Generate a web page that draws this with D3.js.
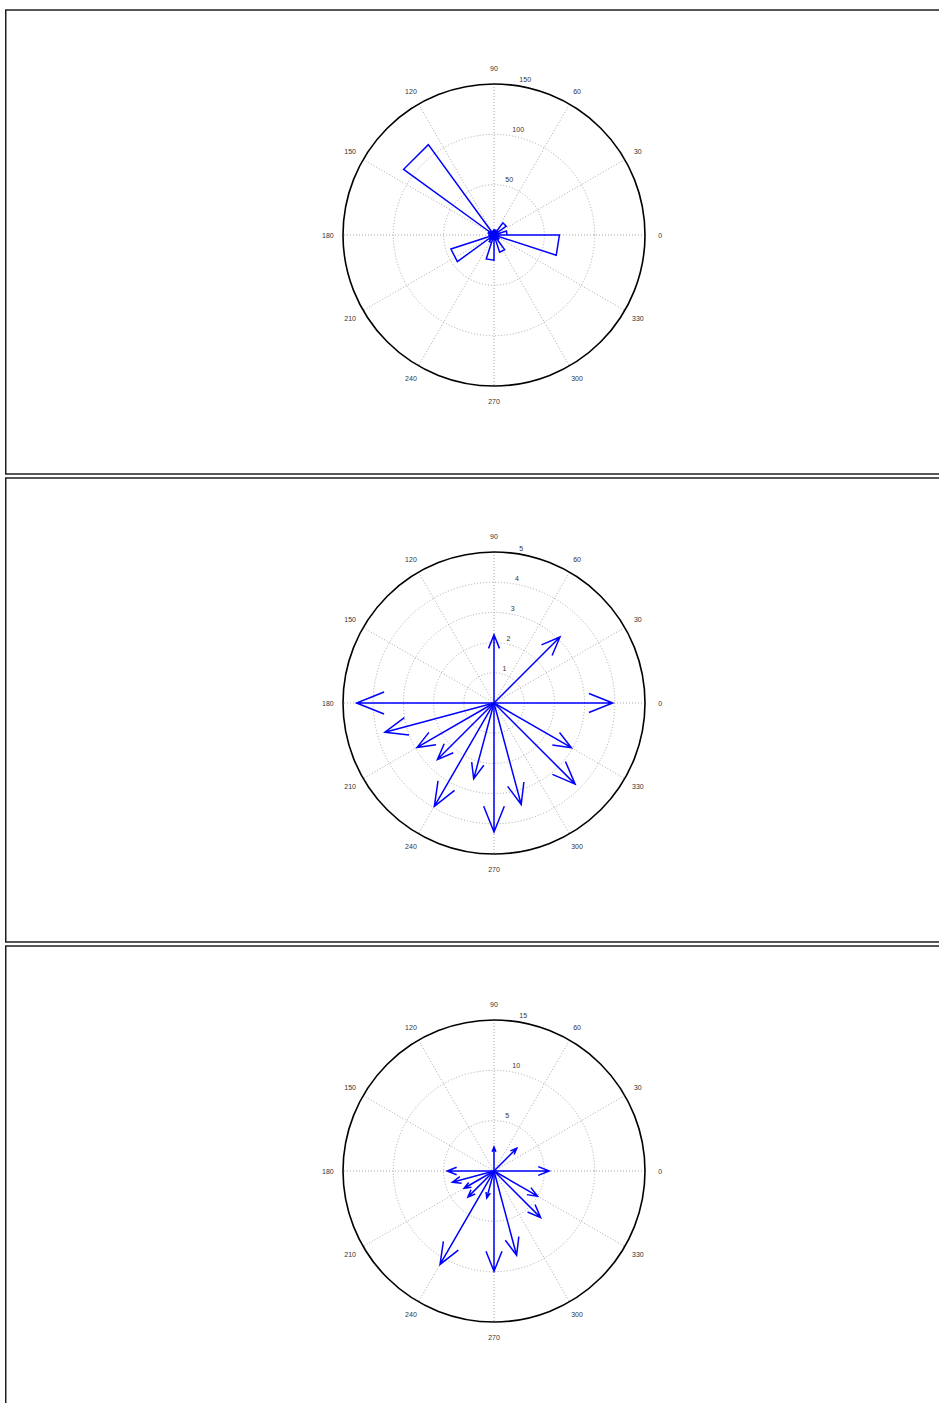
<!DOCTYPE html>
<html>
<head>
<meta charset="utf-8">
<script src="https://cdn.jsdelivr.net/npm/d3@7"></script>
<style>
  html, body { margin: 0; padding: 0; background: #fff; }
  svg { display: block; }
  text { font-family: "Liberation Sans", Arial, Helvetica, sans-serif; }
</style>
</head>
<body>
<svg id="chart" width="939" height="1403"></svg>
<script>
// Rose histogram: 20 bins of 18 degrees, counts per bin (starting at 0 deg)
const roseBinStarts = [0, 18, 36, 54, 72, 90, 108, 126, 144, 162, 180, 198, 216, 234, 252, 270, 288, 306, 324, 342];
const roseCounts    = [13, 4, 15, 3, 5, 3, 4, 111, 6, 3, 5, 45, 6, 8, 25, 5, 18, 6, 4, 65];
const roseRingTicks = [50, 100, 150];

// Compass vectors (direction in degrees, magnitude)
const compassAngles  = [90, 45, 0, 180, 195, 210, 225, 255, 240, 270, 285, 315, 330];
const compassMagsA   = [2.26, 3.09, 3.93, 4.55, 3.74, 2.94, 2.65, 2.60, 3.95, 4.27, 3.48, 3.80, 2.96];
const compassRingsA  = [1, 2, 3, 4, 5];
const compassMagsB   = [2.38, 3.21, 5.49, 4.64, 4.28, 3.43, 3.67, 2.77, 10.72, 9.96, 8.67, 6.55, 5.0];
const compassRingsB  = [5, 10, 15];

const angleLabels = [0, 30, 60, 90, 120, 150, 180, 210, 240, 270, 300, 330];

const svg = d3.select("#chart");
const panelTop = [10, 478, 946];
const panelH = 464;
const cx = 494, cyOff = 225, R = 151;
const deg = Math.PI / 180;

// Panel frames
panelTop.forEach(t => {
  svg.append("rect")
    .attr("x", 5.75).attr("y", t)
    .attr("width", 1000).attr("height", panelH)
    .attr("fill", "none").attr("stroke", "#111").attr("stroke-width", 1.4);
});

function polarFrame(g, rings) {
  const rmax = rings[rings.length - 1];
  const r = d3.scaleLinear().domain([0, rmax]).range([0, R]);
  const rinc = rings[0];
  // spokes
  angleLabels.forEach(a => {
    if (a >= 180) return;
    g.append("line")
      .attr("x1", r(rmax) * Math.cos(a * deg)).attr("y1", -r(rmax) * Math.sin(a * deg))
      .attr("x2", -r(rmax) * Math.cos(a * deg)).attr("y2", r(rmax) * Math.sin(a * deg))
      .attr("stroke", "#a8a8a8").attr("stroke-width", 1).attr("stroke-dasharray", "1,2");
  });
  // inner rings
  rings.slice(0, -1).forEach(v => {
    g.append("circle").attr("r", r(v))
      .attr("fill", "none").attr("stroke", "#a8a8a8").attr("stroke-width", 1)
      .attr("stroke-dasharray", "1,2");
  });
  // outer ring
  g.append("circle").attr("r", r(rmax))
    .attr("fill", "none").attr("stroke", "#000").attr("stroke-width", 1.6);
  // ring labels
  rings.forEach(v => {
    const rr = r(v + rinc / 20);
    g.append("text")
      .attr("x", rr * Math.cos(82 * deg) + 4)
      .attr("y", -rr * Math.sin(82 * deg) - 1)
      .attr("font-size", 7).attr("fill", "#333")
      .text(v);
  });
  // angle labels
  angleLabels.forEach(a => {
    const rr = 1.1 * R;
    g.append("text")
      .attr("x", rr * Math.cos(a * deg))
      .attr("y", -rr * Math.sin(a * deg))
      .attr("text-anchor", "middle").attr("dominant-baseline", "central")
      .attr("font-size", 7).attr("fill", "#333")
      .text(a);
  });
  return r;
}

// Panel 1: rose
{
  const g = svg.append("g").attr("transform", `translate(${cx},${panelTop[0] + cyOff})`);
  const r = polarFrame(g, roseRingTicks);
  const pts = [];
  roseBinStarts.forEach((s, i) => {
    const e = s + 18, v = roseCounts[i];
    pts.push([0, 0]);
    pts.push([r(v) * Math.cos(s * deg), -r(v) * Math.sin(s * deg)]);
    pts.push([r(v) * Math.cos(e * deg), -r(v) * Math.sin(e * deg)]);
    pts.push([0, 0]);
  });
  g.append("path").attr("d", d3.line()(pts))
    .attr("fill", "none").attr("stroke", "#0000ff").attr("stroke-width", 1.5)
    .attr("stroke-linejoin", "miter");
}

// Compass panels
function compass(top, mags, rings) {
  const g = svg.append("g").attr("transform", `translate(${cx},${top + cyOff})`);
  const r = polarFrame(g, rings);
  // arrow outline in unit coordinates: shaft, then two barbs
  const arrow = [[0, 0], [1, 0], [0.8, 0.08], [1, 0], [0.8, -0.08]];
  mags.forEach((m, i) => {
    const a = compassAngles[i] * deg, L = r(m);
    const pts = arrow.map(([x, y]) => {
      const px = x * L, py = y * L;
      return [px * Math.cos(a) - py * Math.sin(a), -(px * Math.sin(a) + py * Math.cos(a))];
    });
    g.append("path").attr("d", d3.line()(pts))
      .attr("fill", "none").attr("stroke", "#0000ff").attr("stroke-width", 1.5)
      .attr("stroke-linejoin", "miter");
  });
}
compass(panelTop[1], compassMagsA, compassRingsA);
compass(panelTop[2], compassMagsB, compassRingsB);
</script>
</body>
</html>
